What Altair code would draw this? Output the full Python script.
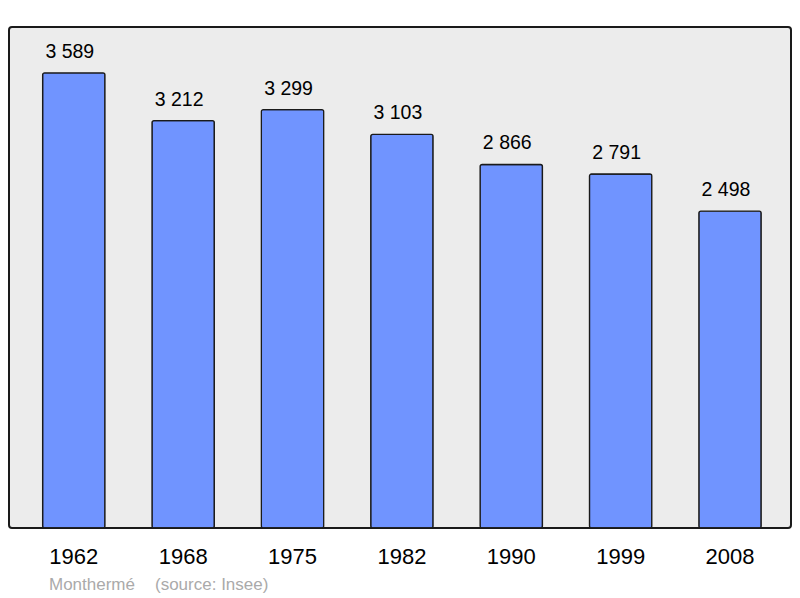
import altair as alt
import pandas as pd

years = ["1962", "1968", "1975", "1982", "1990", "1999", "2008"]
population = [3589, 3212, 3299, 3103, 2866, 2791, 2498]
labels = ["3 589", "3 212", "3 299", "3 103", "2 866", "2 791", "2 498"]
commune = "Monthermé"
source = "(source: Insee)"

df = pd.DataFrame({"year": years, "pop": population, "label": labels})

FONT = "Liberation Sans"

x = alt.X("year:N", sort=years,
          scale=alt.Scale(paddingInner=0.43, paddingOuter=0.29, align=0.53),
          axis=alt.Axis(title=None, domain=False, ticks=False, labelAngle=0,
                        labelFontSize=22, labelFont=FONT, labelColor="#000000",
                        labelPadding=18))
y = alt.Y("pop:Q", scale=alt.Scale(domain=[0, 3950], nice=False, zero=True),
          axis=None)

bars = alt.Chart(df).mark_bar(color="#7094ff", stroke="#1a1a1a", strokeWidth=1.3,
                              cornerRadius=2).encode(x=x, y=y)

text = alt.Chart(df).mark_text(baseline="bottom", dy=-11, dx=-4, fontSize=19.5, font=FONT,
                               color="#000000").encode(x=x, y=y, text="label:N")

foot1 = alt.Chart(pd.DataFrame({"t": [commune]})).mark_text(
    align="left", baseline="middle", fontSize=17, font=FONT, color="#aaaaaa"
).encode(x=alt.value(40), y=alt.value(558), text="t:N")

foot2 = alt.Chart(pd.DataFrame({"t": [source]})).mark_text(
    align="left", baseline="middle", fontSize=17, font=FONT, color="#aaaaaa"
).encode(x=alt.value(146), y=alt.value(558), text="t:N")

chart = alt.layer(bars, text, foot1, foot2).properties(
    width=782, height=501,
    autosize=alt.AutoSizeParams(type="none"),
    padding={"left": 1, "top": 19, "right": 1, "bottom": 70},
    background="#ffffff",
).configure_view(
    fill="#ececec", stroke="#1a1a1a", strokeWidth=2, cornerRadius=3
)

chart.save("out.html", embed_options={"renderer": "svg", "actions": False})
